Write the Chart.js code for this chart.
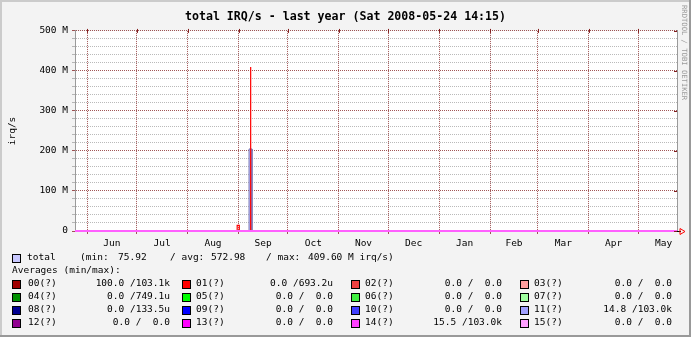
<!DOCTYPE html>
<html>
<head>
<meta charset="utf-8">
<script src="https://cdn.jsdelivr.net/npm/chart.js@4.4.1/dist/chart.umd.min.js"></script>
<style>
    html, body { margin: 0; padding: 0; background: #f3f3f3; }
</style>
</head>
<body>
<canvas id="graficoIrq" width="691" height="337"></canvas>
<script>
// dados (valores em M irq/s, eixo x em dias desde o inicio)
const titulo = "total IRQ/s - last year (Sat 2008-05-24 14:15)";
const inicio = Date.UTC(2007, 4, 24, 14, 15);
const fim = Date.UTC(2008, 4, 24, 14, 15);
const meses = ["Jun", "Jul", "Aug", "Sep", "Oct", "Nov", "Dec", "Jan", "Feb", "Mar", "Apr", "May"];
const valoresY = [0, 100, 200, 300, 400, 500];

const totalDias = [0, 105.8, 105.8, 107.6, 107.6, 366];
const totalValores = [0, 0, 205, 205, 0, 0];
const picoDias = [0, 98.6, 98.6, 99.9, 99.9, 106.5, 106.7, 106.9, 366];
const picoValores = [0, 0, 14, 14, 0, 0, 409.6, 0, 0];
const baseDias = [0, 366];
const baseValores = [0, 0];

const totalMin = "75.92";
const totalMedia = "572.98";
const totalMax = "409.60 M irq/s)";

const irqNomes = ["00", "01", "02", "03", "04", "05", "06", "07", "08", "09", "10", "11", "12", "13", "14", "15"];
const irqMin = [100.0, 0, 0, 0, 0, 0, 0, 0, 0, 0, 0, 14.8, 0, 0, 15.5, 0];
const irqMax = [103100, 0.0006932, 0, 0, 0.0007491, 0, 0, 0, 0.0001335, 0, 0, 103000, 0, 0, 103000, 0];
const irqCores = ["#a00000", "#ff0000", "#f04040", "#ffa0a0", "#009000", "#00ff00", "#40f040", "#a0ffa0",
    "#000090", "#0000ff", "#4040ff", "#a0a0ff", "#900090", "#ff00ff", "#ff40ff", "#ffa0ff"];

const DIA = 86400000;
const totalDiasAno = (fim - inicio) / DIA;
const fonte = '"DejaVu Sans Mono", monospace';
const corGrade = "rgba(130,30,30,0.75)";
const corGradeMenor = "rgba(140,140,140,0.6)";

// marcas do eixo x: inicio de cada mes (grade) e meio do mes (rotulo)
const marcasX = [];
meses.forEach((mes, i) => {
    const ini = (Date.UTC(2007, 5 + i, 1) - inicio) / DIA;
    const prox = (Date.UTC(2007, 6 + i, 1) - inicio) / DIA;
    marcasX.push({ value: ini, rotulo: "" });
    marcasX.push({ value: (ini + prox) / 2, rotulo: mes });
});
const marcasY = [];
for (let v = 0; v <= 500; v += 20) marcasY.push(v);

function pontos(xs, ys) {
    return xs.map((x, i) => ({ x: x, y: ys[i] }));
}

function formatar(v) {
    if (v === 0) return "0.0";
    if (v >= 1000) return (v / 1000).toFixed(1) + "k";
    if (v < 1) return (v * 1e6).toFixed(1) + "u";
    return v.toFixed(1);
}

const moldura = {
    id: "moldura",
    beforeDraw(grafico) {
        const ctx = grafico.ctx;
        const w = grafico.width, h = grafico.height;
        const a = grafico.chartArea;
        ctx.save();
        ctx.fillStyle = "#f3f3f3";
        ctx.fillRect(0, 0, w, h);
        ctx.fillStyle = "#cbcbcb";
        ctx.fillRect(0, 0, w, 2);
        ctx.fillRect(0, 0, 2, h);
        ctx.fillStyle = "#999999";
        ctx.fillRect(0, h - 2, w, 2);
        ctx.fillRect(w - 2, 0, 2, h);
        ctx.fillStyle = "#ffffff";
        ctx.fillRect(a.left, a.top, a.right - a.left, a.bottom - a.top);
        ctx.restore();
    },
    afterDraw(grafico) {
        const ctx = grafico.ctx;
        const a = grafico.chartArea;
        const ex = grafico.scales.x;
        const ey = grafico.scales.y;
        ctx.save();

        // pontas solidas das linhas de grade principais
        ctx.strokeStyle = "#821e1e";
        ctx.lineWidth = 1;
        ctx.beginPath();
        marcasX.filter(m => m.rotulo === "").forEach(m => {
            const px = Math.round(ex.getPixelForValue(m.value)) + 0.5;
            ctx.moveTo(px, a.top - 2);
            ctx.lineTo(px, a.top + 2);
        });
        valoresY.forEach(v => {
            const py = Math.round(ey.getPixelForValue(v)) + 0.5;
            ctx.moveTo(a.right - 3, py);
            ctx.lineTo(a.right, py);
        });
        ctx.stroke();

        // seta do eixo x
        const yb = Math.round(a.bottom) + 0.5;
        ctx.strokeStyle = "#000";
        ctx.beginPath();
        ctx.moveTo(a.right, yb);
        ctx.lineTo(a.right + 4, yb);
        ctx.stroke();
        ctx.strokeStyle = "#ff0000";
        ctx.beginPath();
        ctx.moveTo(a.right + 3, yb - 3);
        ctx.lineTo(a.right + 8, yb);
        ctx.lineTo(a.right + 3, yb + 3);
        ctx.closePath();
        ctx.stroke();

        // texto vertical
        ctx.fillStyle = "#9a9a9a";
        ctx.font = "7.2px " + fonte;
        ctx.textBaseline = "middle";
        ctx.translate(684, 5);
        ctx.rotate(Math.PI / 2);
        ctx.fillText("RRDTOOL / TOBI OETIKER", 0, 0);
        ctx.restore();

        // legenda
        ctx.save();
        ctx.font = "9.5px " + fonte;
        ctx.textBaseline = "middle";
        ctx.fillStyle = "#000";
        const caixa = (x, y, cor) => {
            ctx.fillStyle = cor;
            ctx.fillRect(x, y - 4, 9, 9);
            ctx.strokeStyle = "#000";
            ctx.strokeRect(x + 0.5, y - 3.5, 8, 8);
            ctx.fillStyle = "#000";
        };
        caixa(12, 258, "#c8c8ff");
        ctx.fillText("total", 27, 258);
        ctx.fillText("(min:", 80, 258);
        ctx.fillText(totalMin, 118, 258);
        ctx.fillText("/ avg:", 170, 258);
        ctx.fillText(totalMedia, 211, 258);
        ctx.fillText("/ max:", 266, 258);
        ctx.fillText(totalMax, 308, 258);
        ctx.fillText("Averages (min/max):", 12, 271);

        const colCaixa = [12, 182, 351, 520];
        const colNome = [28, 196, 365, 534];
        const colFim = [170, 333, 502, 672];
        irqNomes.forEach((nome, i) => {
            const lin = Math.floor(i / 4), col = i % 4;
            const y = 284 + lin * 13;
            caixa(colCaixa[col], y, irqCores[i]);
            ctx.textAlign = "left";
            ctx.fillText(nome + "(?)", colNome[col], y);
            ctx.textAlign = "right";
            const txt = formatar(irqMin[i]) + " /" + formatar(irqMax[i]).padStart(5, " ");
            ctx.fillText(txt, colFim[col], y);
        });
        ctx.restore();
    }
};

const canvasGrafico = document.getElementById("graficoIrq");
const grafico = new Chart(canvasGrafico, {
    type: "line",
    data: {
        datasets: [
            {
                label: "base",
                data: pontos(baseDias, baseValores),
                borderColor: "#ff60ff",
                borderWidth: 2,
                pointRadius: 0,
                clip: false,
                order: 0,
            },
            {
                label: "pico",
                data: pontos(picoDias, picoValores),
                borderColor: "#ff0000",
                borderWidth: 1.2,
                pointRadius: 0,
                order: 1,
            },
            {
                label: "total",
                data: pontos(totalDias, totalValores),
                borderColor: "#7878b8",
                backgroundColor: "#c8c8ff",
                borderWidth: 1,
                fill: "origin",
                pointRadius: 0,
                order: 2,
            },
        ],
    },
    options: {
        responsive: false,
        animation: false,
        devicePixelRatio: 1,
        layout: { padding: 0 },
        plugins: {
            legend: { display: false },
            tooltip: { enabled: false },
            title: {
                display: true,
                text: titulo,
                color: "#000",
                font: { family: fonte, size: 11.6, weight: "bold", lineHeight: 1.2 },
                padding: { top: 10, bottom: 7 },
            },
        },
        scales: {
            x: {
                type: "linear",
                min: 0,
                max: totalDiasAno,
                afterBuildTicks: (escala) => {
                    escala.ticks = marcasX.map(m => ({ value: m.value, rotulo: m.rotulo }));
                },
                afterFit: (escala) => { escala.height = 106; },
                grid: {
                    color: (c) => (c.tick && c.tick.rotulo === "" ? corGrade : "rgba(0,0,0,0)"),
                    tickColor: (c) => (c.tick && c.tick.rotulo === "" ? corGrade : "rgba(0,0,0,0)"),
                    tickLength: 3,
                },
                border: { color: "#202020", dash: [1, 1] },
                ticks: {
                    autoSkip: false,
                    maxRotation: 0,
                    padding: 4,
                    color: "#000",
                    font: { family: fonte, size: 9.5 },
                    callback: (v, i, ticks) => ticks[i].rotulo,
                },
            },
            y: {
                min: 0,
                max: 500,
                afterBuildTicks: (escala) => {
                    escala.ticks = marcasY.map(v => ({ value: v }));
                },
                afterFit: (escala) => { escala.width = 75; },
                grid: {
                    color: (c) => (c.tick && valoresY.includes(c.tick.value) ? corGrade : corGradeMenor),
                    tickColor: (c) => (c.tick && valoresY.includes(c.tick.value) ? corGrade : corGradeMenor),
                    tickLength: 3,
                },
                border: { color: "#9a9a9a", dash: [1, 1] },
                ticks: {
                    autoSkip: false,
                    padding: 4,
                    color: "#000",
                    font: { family: fonte, size: 9.5 },
                    callback: (v) => (valoresY.includes(v) ? (v === 0 ? "0" : v + " M") : ""),
                },
                title: {
                    display: true,
                    text: "irq/s",
                    color: "#000",
                    font: { family: fonte, size: 9.5 },
                    padding: { top: 7, bottom: 0 },
                },
            },
            yR: {
                position: "right",
                min: 0,
                max: 500,
                afterFit: (escala) => { escala.width = 14; },
                ticks: { display: false },
                grid: { display: false },
                border: { color: "#9a9a9a" },
            },
        },
    },
    plugins: [moldura],
});
</script>
</body>
</html>
